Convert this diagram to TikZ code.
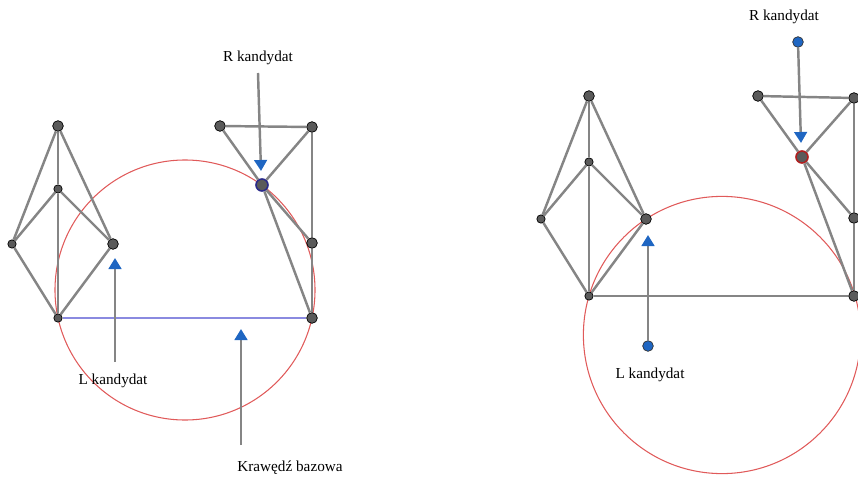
\documentclass[tikz,border=0pt]{standalone}
\usepackage{fontspec}
\setmainfont{Liberation Serif}
\usetikzlibrary{arrows.meta}
\definecolor{vgray}{HTML}{5A5A5A}
\definecolor{egray}{HTML}{858585}
\definecolor{tipblue}{HTML}{1F66C2}
\definecolor{circred}{HTML}{E05A5A}
\definecolor{baseblue}{HTML}{8A8AE0}
\definecolor{ringblue}{HTML}{2A2A8A}
\definecolor{ringred}{HTML}{B01E1E}

\begin{document}
\begin{tikzpicture}[x=0.03cm,y=-0.03cm]
        \tikzstyle{vertex}=[circle,fill=vgray,draw=black,line width=0.6pt,minimum size=0.32cm,inner sep=0pt]
        \tikzstyle{small vertex}=[vertex,minimum size=0.25cm]
        \tikzstyle{cand vertex}=[vertex,minimum size=0.36cm,line width=1.4pt]
        \tikzstyle{blue dot}=[vertex,fill=tipblue,draw=black!80]
        \tikzstyle{link}=[draw=egray,line width=2.1pt]
        \tikzstyle{pointer}=[draw=egray,line width=2.1pt,-{Triangle[width=0.38cm,length=0.33cm,color=tipblue]}]
        \tikzstyle{circ}=[draw=circred,line width=0.9pt]
        \tikzstyle{annot}=[font=\fontsize{13}{15}\selectfont]
        \useasboundingbox (0,0) rectangle (858,479);

        % Circles (drawn first, under the graph)
        \draw[circ] (185,290) circle [radius=3.9cm];
        \draw[circ] (722,335) circle [radius=4.158cm];

        % Left panel: left part of the graph
        \node[vertex] (A-1) at (58,126) {};
        \node[small vertex] (M-1) at (58,189) {};
        \node[small vertex] (L-1) at (12,244) {};
        \node[vertex] (P-1) at (113,244) {};
        \node[small vertex] (B-1) at (58,318) {};
        % Left panel: right part of the graph
        \node[vertex] (TL-1) at (220,126) {};
        \node[vertex] (TR-1) at (312,127) {};
        \node[cand vertex,draw=ringblue] (C-1) at (262,185) {};
        \node[vertex] (Q-1) at (312,243) {};
        \node[vertex] (BR-1) at (312,318) {};

        % Right panel: left part of the graph
        \node[vertex] (A-2) at (589,96) {};
        \node[small vertex] (M-2) at (589,162) {};
        \node[small vertex] (L-2) at (541,219) {};
        \node[vertex] (P-2) at (646,219) {};
        \node[small vertex] (B-2) at (589,296) {};
        % Right panel: right part of the graph
        \node[vertex] (TL-2) at (758,96) {};
        \node[vertex] (TR-2) at (854,98) {};
        \node[cand vertex,draw=ringred] (C-2) at (802,157) {};
        \node[vertex] (Q-2) at (854,218) {};
        \node[vertex] (BR-2) at (854,296) {};

        % Edges, same in both panels
        \foreach \i in {1,2} {
            \foreach \a/\b in {A/L,A/M,A/P,M/L,M/P,M/B,L/B,P/B,TL/TR,TL/C,TR/C,TR/Q,C/Q,C/BR,Q/BR}
                \draw[link] (\a-\i) -- (\b-\i);
        }
        % Base edges
        \draw[draw=baseblue,line width=2.4pt] (B-1) -- (BR-1);
        \draw[link] (B-2) -- (BR-2);

        % Left panel: pointers and labels
        \coordinate (lstart-1) at (115,362);
        \coordinate (ltip-1) at (115,258);
        \coordinate (rstart-1) at (258,73);
        \coordinate (rtip-1) at (261,171);
        \coordinate (kstart) at (241,445);
        \coordinate (ktip) at (241,329);
        \draw[pointer] (lstart-1) -- (ltip-1);
        \draw[pointer] (rstart-1) -- (rtip-1);
        \draw[pointer] (kstart) -- (ktip);
        \node[annot] (lab-l-1) at (113,381) {L kandydat};
        \node[annot] (lab-r-1) at (258,58) {R kandydat};
        \node[annot] (lab-k) at (290,468) {Krawędź bazowa};

        % Right panel: pointers from blue dots and labels
        \node[blue dot] (ldot-2) at (648,346) {};
        \node[blue dot] (rdot-2) at (798,42) {};
        \coordinate (ltip-2) at (648,235);
        \coordinate (rtip-2) at (801,143);
        \draw[pointer] (ldot-2) -- (ltip-2);
        \draw[pointer] (rdot-2) -- (rtip-2);
        \node[annot] (lab-l-2) at (650,375) {L kandydat};
        \node[annot] (lab-r-2) at (784,17) {R kandydat};
    \end{tikzpicture}
\end{document}
